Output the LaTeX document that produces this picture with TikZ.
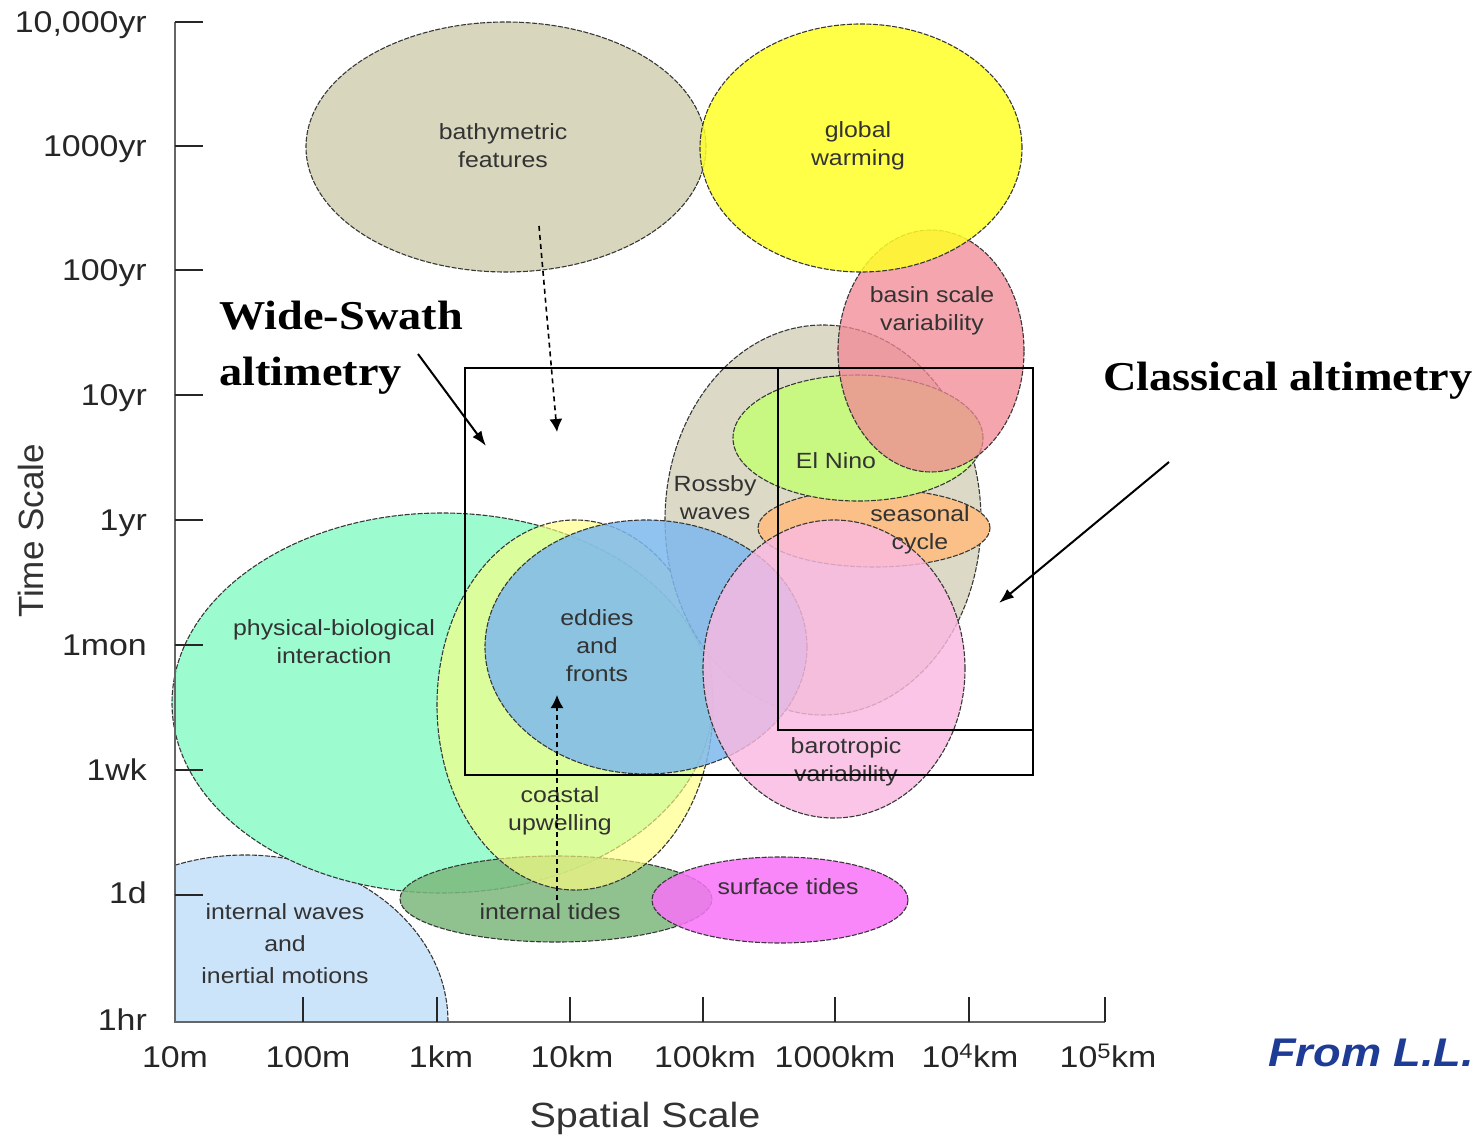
\documentclass[tikz,border=0pt]{standalone}
\usepackage{fontspec}
\setmainfont{Liberation Sans}[FakeStretch=1.13]
\newfontfamily\plainsans{Liberation Sans}
\newfontfamily\serifb{Liberation Serif}[FakeStretch=1.13]
\usetikzlibrary{shapes.geometric,arrows.meta}
\definecolor{cIW}{RGB}{204,228,250}
\definecolor{cPB}{RGB}{156,252,208}
\definecolor{cIT}{RGB}{125,184,125}
\definecolor{cCU}{RGB}{255,255,128}
\definecolor{cST}{RGB}{249,115,249}
\definecolor{cBF}{RGB}{216,214,188}
\definecolor{cRW}{RGB}{220,218,198}
\definecolor{cSC}{RGB}{250,192,135}
\definecolor{cEN}{RGB}{200,248,130}
\definecolor{cBS}{RGB}{242,135,148}
\definecolor{cGW}{RGB}{255,255,40}
\definecolor{cEF}{RGB}{125,185,238}
\definecolor{cBV}{RGB}{250,185,225}
\definecolor{cFrom}{RGB}{30,60,150}
\begin{document}
\begin{tikzpicture}[x=1pt,y=-1pt,
  blob/.style={ellipse, draw=black!78, line width=1.1pt, dash pattern=on 5pt off 1.5pt, inner sep=0pt, outer sep=0pt},
  lbl/.style={font=\fontsize{22}{28}\selectfont, align=center, text=black!80, inner sep=0pt},
  ylab/.style={font=\fontsize{30}{34}\selectfont, text=black!85, anchor=east, inner sep=0pt, text height=21pt, text depth=0pt},
  xlab/.style={font=\fontsize{30}{34}\selectfont, text=black!85, inner sep=0pt, text height=21pt, text depth=0pt},
  bigl/.style={font=\serifb\bfseries\fontsize{41}{46}\selectfont, anchor=base west, inner sep=0pt},
  axisl/.style={line width=2pt, draw=black!60},
  tickl/.style={line width=2pt, draw=black!85},
  arr/.style={line width=2pt, -{Latex[length=15pt,width=11pt]}},
  darr/.style={line width=1.6pt, dash pattern=on 5pt off 4pt, -{Latex[length=13pt,width=13pt]}},
  boxr/.style={draw=black, line width=1.8pt, inner sep=0pt, outer sep=0pt, anchor=north west}
]
\useasboundingbox (0,0) rectangle (1484,1142);
\fill[white] (0,0) rectangle (1484,1142);

% ---- ellipses (back to front)
\begin{scope}
  \clip (175,0) rectangle (1484,1022);
  \node[blob, fill=cIW, minimum width=406pt, minimum height=334pt] (iw) at (245,1022) {};
\end{scope}
\node[blob, fill=cPB, minimum width=540pt, minimum height=380pt] (pb) at (442,703) {};
\node[blob, fill=cIT, fill opacity=0.85, minimum width=312pt, minimum height=86pt] (it) at (556,899) {};
\node[blob, fill=cCU, fill opacity=0.65, minimum width=276pt, minimum height=370pt] (cu) at (575,705) {};
\node[blob, fill=cST, fill opacity=0.85, minimum width=256pt, minimum height=86pt] (st) at (780,900) {};
\node[blob, fill=cBF, minimum width=400pt, minimum height=250pt] (bf) at (506,147) {};
\node[blob, fill=cRW, minimum width=316pt, minimum height=390pt] (rw) at (823,520) {};
\node[blob, fill=cSC, minimum width=232pt, minimum height=78pt] (sc) at (874,528) {};
\node[blob, fill=cEN, minimum width=250pt, minimum height=126pt] (en) at (858,438) {};
\node[blob, fill=cBS, fill opacity=0.75, minimum width=186pt, minimum height=242pt] (bs) at (931,351) {};
\node[blob, fill=cGW, fill opacity=0.85, minimum width=322pt, minimum height=248pt] (gw) at (861,148) {};
\node[blob, fill=cEF, fill opacity=0.85, minimum width=322pt, minimum height=254pt] (ef) at (646,647) {};
\node[blob, fill=cBV, fill opacity=0.82, minimum width=262pt, minimum height=298pt] (bv) at (834,669) {};

% ---- ellipse labels
\node[lbl] (tbf) at (503,146) {bathymetric\\features};
\node[lbl] (tgw) at (858,146) {global\\warming};
\node[lbl] (tbs) at (932,311) {basin scale\\variability};
\node[lbl] (trw) at (715,498) {Rossby\\waves};
\node[lbl] (ten) at (836,461) {El Nino};
\node[lbl] (tsc) at (920,530) {seasonal\\cycle};
\node[lbl] (tbv) at (846,762) {barotropic\\variability};
\node[lbl] (tef) at (597,646) {eddies\\and\\fronts};
\node[lbl] (tpb) at (334,642) {physical-biological\\interaction};
\node[lbl] (tcu) at (560,811) {coastal\\upwelling};
\node[lbl] (tit) at (550,912) {internal tides};
\node[lbl] (tst) at (788,887) {surface tides};
\node[lbl, font=\fontsize{22}{32}\selectfont] (tiw) at (285,944) {internal waves\\and\\inertial motions};

% ---- axes
\coordinate (ytop) at (175,22);
\coordinate (orig) at (175,1022);
\coordinate (xend) at (1105,1022);
\draw[axisl] (ytop) -- (orig) -- (xend);
\foreach \yy in {22,146,270,395,520,645,770,895}
  \draw[tickl] (175,\yy) -- (203,\yy);
\foreach \xx in {303,437,570,703,835,969,1105}
  \draw[line width=1.5pt, draw=black!85] (\xx,1022) -- (\xx,997);

\node[ylab] (y1) at (147,22) {10,000yr};
\node[ylab] (y2) at (147,146) {1000yr};
\node[ylab] (y3) at (147,270) {100yr};
\node[ylab] (y4) at (147,395) {10yr};
\node[ylab] (y5) at (147,520) {1yr};
\node[ylab] (y6) at (147,645) {1mon};
\node[ylab] (y7) at (147,770) {1wk};
\node[ylab] (y8) at (147,893) {1d};
\node[ylab] (y9) at (147,1020) {1hr};

\node[xlab] (x1) at (175,1057) {10m};
\node[xlab] (x2) at (308,1057) {100m};
\node[xlab] (x3) at (441,1057) {1km};
\node[xlab] (x4) at (572,1057) {10km};
\node[xlab] (x5) at (705,1057) {100km};
\node[xlab] (x6) at (835,1057) {1000km};
\node[xlab] (x7) at (970,1057) {10\textsuperscript{4}km};
\node[xlab] (x8) at (1108,1057) {10\textsuperscript{5}km};

\node[font=\plainsans\fontsize{35}{40}\selectfont, rotate=90, text=black!80] (ttl) at (31,531) {Time Scale};
\node[font=\fontsize{35}{40}\selectfont, text=black!80] (xtl) at (645,1118) {Spatial Scale};

% ---- boxes
\node[boxr, minimum width=568pt, minimum height=407pt] (wsbox) at (465,368) {};
\node[boxr, minimum width=255pt, minimum height=362pt] (cabox) at (778,368) {};

% ---- big labels
\node[bigl] (ws1) at (219,329) {Wide-Swath};
\node[bigl] (ws2) at (219,385) {altimetry};
\node[bigl] (cal) at (1103,390) {Classical altimetry};
\node[font=\bfseries\itshape\fontsize{40}{44}\selectfont, text=cFrom, anchor=base west, inner sep=0pt] (from) at (1268,1066) {From L.L.};

% ---- arrows
\coordinate (wsS) at (418,354);
\coordinate (wsE) at (486,446);
\draw[arr] (wsS) -- (wsE);
\coordinate (caS) at (1169,462);
\coordinate (caE) at (999,603);
\draw[arr] (caS) -- (caE);
\coordinate (d1S) at (539,226);
\coordinate (d1E) at (557,432);
\draw[darr] (d1S) -- (d1E);
\coordinate (d2S) at (557,900);
\coordinate (d2E) at (557,695);
\draw[darr] (d2S) -- (d2E);
\end{tikzpicture}
\end{document}
